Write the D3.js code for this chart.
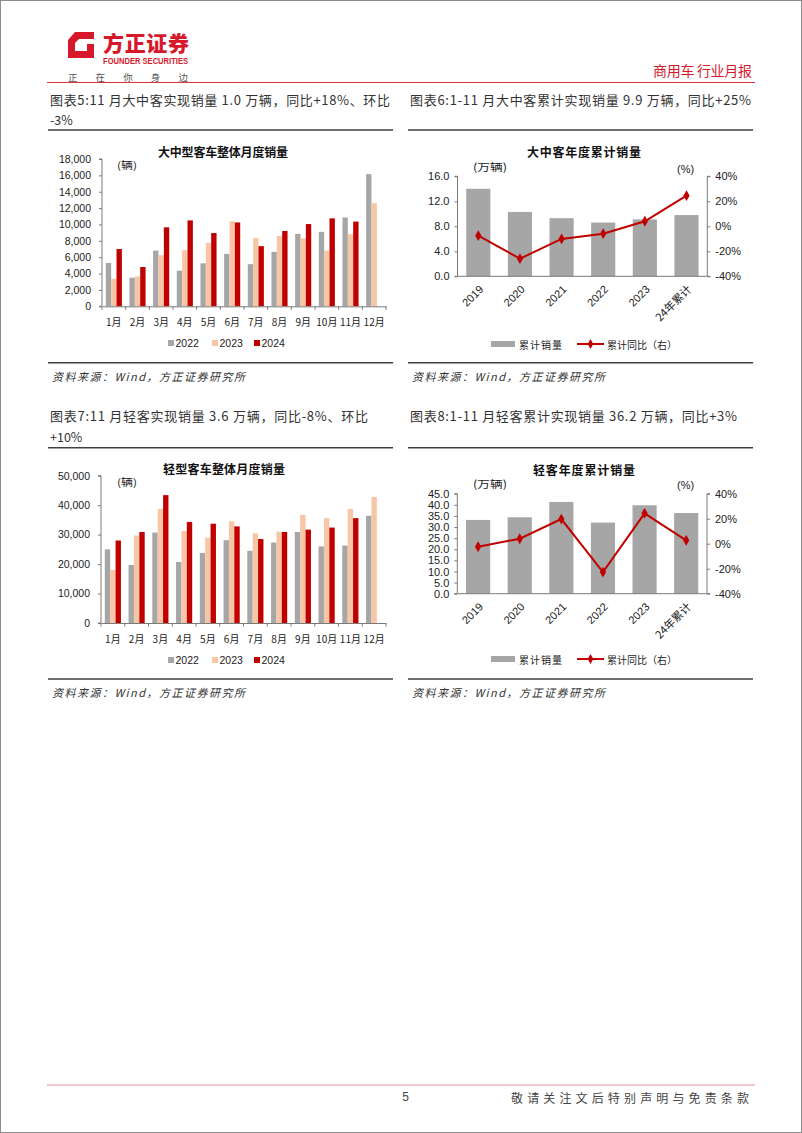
<!DOCTYPE html>
<html><head><meta charset="utf-8">
<script src="https://cdn.jsdelivr.net/npm/d3@7"></script>
<style>body{margin:0;background:#fff}svg{display:block}</style>
</head><body>
<svg id="page" width="802" height="1133"></svg>
<script>
// ---------- data ----------
const months = ["1月","2月","3月","4月","5月","6月","7月","8月","9月","10月","11月","12月"];
const seriesNames = ["2022","2023","2024"];
const largeBus2022 = [5300,3500,6800,4350,5250,6400,5150,6650,8850,9100,10850,16150];
const largeBus2023 = [3350,3650,6250,6850,7750,10400,8350,8600,8300,6800,8800,12600];
const largeBus2024 = [7000,4800,9650,10500,8950,10250,7350,9200,10050,10750,10350];
const lightBus2022 = [25000,19700,30700,20700,23800,28100,24500,27300,30900,26000,26300,36400];
const lightBus2023 = [18000,29700,38700,31200,29000,34500,30400,31000,36700,35600,38700,42800];
const lightBus2024 = [28000,30900,43400,34300,33700,32800,28500,30900,31700,32400,35600];
const cumYears = ["2019","2020","2021","2022","2023","24年累计"];
const largeBusCum = [14.0,10.3,9.3,8.6,9.1,9.8];
const largeBusCumYoY = [-7.5,-25.9,-10.1,-5.9,4.0,24.5];
const lightBusCum = [33.2,34.4,41.3,32.0,39.8,36.3];
const lightBusCumYoY = [-2.4,4.0,19.7,-22.7,24.3,2.7];
const largeBusTicks = [0,2000,4000,6000,8000,10000,12000,14000,16000,18000];
const lightBusTicks = [0,10000,20000,30000,40000,50000];
const largeCumTicks = [0,4,8,12,16];
const lightCumTicks = [0,5,10,15,20,25,30,35,40,45];
const yoyTicks = [-40,-20,0,20,40];

// ---------- styles ----------
const RED = "#d7182a", DARKRED = "#c00000", GRAY = "#a6a6a6", PEACH = "#f7c6a6";
const seriesColors = [GRAY, PEACH, DARKRED];
const CJK = "'Noto Sans CJK SC','Noto Sans',sans-serif";
const NUM = "'Liberation Sans',Arial,sans-serif";
const AXIS = "#7a7a7a";

const svg = d3.select("#page");
svg.append("rect").attr("x",0.5).attr("y",0.5).attr("width",801).attr("height",1132)
  .attr("fill","#fff").attr("stroke","#8c8c8c").attr("stroke-width",1);

function txt(g, x, y, s, o = {}) {
  const t = g.append("text").attr("x", x).attr("y", y).text(s)
    .attr("font-family", o.font || CJK).attr("font-size", o.size || 12)
    .attr("fill", o.color || "#333").attr("text-anchor", o.anchor || "start")
    .attr("dominant-baseline", "central");
  if (o.weight) t.attr("font-weight", o.weight);
  if (o.italic) t.attr("font-style", "italic");
  if (o.len) t.attr("textLength", o.len).attr("lengthAdjust", o.adjust || "spacing");
  return t;
}
function hline(x1, x2, y, color, w) {
  svg.append("line").attr("x1", x1).attr("x2", x2).attr("y1", y).attr("y2", y)
    .attr("stroke", color).attr("stroke-width", w);
}

// ---------- header ----------
svg.append("path").attr("fill", RED)
  .attr("d","M75 32 L94 32 L94 39 L79 39 L75 43 L75 51 L87 51 L87 44 L94 44 L94 58 L68 58 L68 40 Z");
txt(svg, 103, 41.5, "方正证券", {size: 21, weight: 900, color: RED, len: 86});
txt(svg, 103, 60.5, "FOUNDER SECURITIES", {font: NUM, size: 8.3, weight: 700, color: RED, len: 85, adjust: "spacingAndGlyphs"});
txt(svg, 68, 76.5, "正 在 你 身 边", {size: 9.5, color: "#555", len: 120});
txt(svg, 752, 70, "商用车 行业月报", {size: 14, color: RED, anchor: "end", len: 99});
hline(47, 755, 82.5, "#e2313f", 1);

// ---------- section titles ----------
txt(svg, 50, 99.5, "图表5:11 月大中客实现销量 1.0 万辆，同比+18%、环比", {size: 13, len: 340});
txt(svg, 50, 119.5, "-3%", {size: 12.5});
txt(svg, 410, 99.5, "图表6:1-11 月大中客累计实现销量 9.9 万辆，同比+25%", {size: 13, len: 341});
txt(svg, 50, 415.5, "图表7:11 月轻客实现销量 3.6 万辆，同比-8%、环比", {size: 13, len: 318});
txt(svg, 50, 436.5, "+10%", {size: 12.5});
txt(svg, 410, 415.5, "图表8:1-11 月轻客累计实现销量 36.2 万辆，同比+3%", {size: 13, len: 327});
[130, 362.7, 447.7, 679].forEach(y => { hline(48, 393, y, "#404040", 1.6); hline(408, 753, y, "#404040", 1.6); });
[375.5, 691.5].forEach(y => {
  txt(svg, 52, y, "资料来源：Wind，方正证券研究所", {size: 11, italic: true, color: "#333", len: 193});
  txt(svg, 412, y, "资料来源：Wind，方正证券研究所", {size: 11, italic: true, color: "#333", len: 193});
});

// ---------- footer ----------
hline(47, 755, 1085, "#f08da0", 1);
txt(svg, 405.5, 1097, "5", {font: NUM, size: 12, color: "#444", anchor: "middle"});
txt(svg, 749, 1097, "敬请关注文后特别声明与免责条款", {size: 12, color: "#444", anchor: "end", len: 238});

// ---------- monthly grouped bar chart ----------
function drawMonthly(o) {
  const g = svg.append("g");
  const x = d3.scaleBand().domain(months).range([o.x0, o.x1]).paddingInner(0.32).paddingOuter(0.16);
  const xs = d3.scaleBand().domain(seriesNames).range([0, x.bandwidth()]);
  const y = d3.scaleLinear().domain([0, o.max]).range([o.y0, o.yTop]);
  o.data.forEach((arr, si) => {
    g.append("g").selectAll("rect").data(arr).join("rect")
      .attr("x", (d, i) => x(months[i]) + xs(seriesNames[si]))
      .attr("width", xs.bandwidth())
      .attr("y", d => y(d)).attr("height", d => o.y0 - y(d))
      .attr("fill", seriesColors[si]);
  });
  const ya = g.append("g").attr("transform", `translate(${o.x0},0)`)
    .call(d3.axisLeft(y).tickValues(o.ticks).tickFormat(d3.format(",")).tickSize(3).tickPadding(8));
  ya.select(".domain").attr("stroke", AXIS).attr("d", `M-3,${o.y0}H0V${o.yTop}H-3`);
  ya.selectAll(".tick line").attr("stroke", AXIS);
  ya.selectAll("text").attr("font-family", NUM).attr("font-size", 10.5).attr("fill", "#222");
  const xa = g.append("g").attr("transform", `translate(0,${o.y0})`)
    .call(d3.axisBottom(x).tickSize(0).tickPadding(13));
  xa.select(".domain").attr("stroke", AXIS);
  xa.selectAll("text").attr("font-family", CJK).attr("font-size", 10).attr("fill", "#222");
  g.append("g").selectAll("line").data(d3.range(months.length + 1)).join("line")
    .attr("x1", i => o.x0 + i * x.step()).attr("x2", i => o.x0 + i * x.step())
    .attr("y1", o.y0).attr("y2", o.y0 + 3.5).attr("stroke", AXIS);
  txt(g, o.titleX, o.titleY, o.title, {size: 12, weight: 700, color: "#111", anchor: "middle", len: o.titleLen});
  txt(g, 117, o.unitY, "(辆)", {size: 10, color: "#222", len: 20, adjust: "spacingAndGlyphs"});
  const lx = [168, 212, 254];
  seriesNames.forEach((s, i) => {
    g.append("rect").attr("x", lx[i]).attr("y", o.legendY - 3).attr("width", 6).attr("height", 6).attr("fill", seriesColors[i]);
    txt(g, lx[i] + 7.5, o.legendY, s, {font: NUM, size: 10.5, color: "#222"});
  });
}

drawMonthly({x0: 102, x1: 386, y0: 306.3, yTop: 159, max: 18000, ticks: largeBusTicks,
  data: [largeBus2022, largeBus2023, largeBus2024], title: "大中型客车整体月度销量",
  titleX: 223, titleY: 151, titleLen: 130, unitY: 164, legendY: 343});
drawMonthly({x0: 101, x1: 386, y0: 623, yTop: 475.7, max: 50000, ticks: lightBusTicks,
  data: [lightBus2022, lightBus2023, lightBus2024], title: "轻型客车整体月度销量",
  titleX: 224, titleY: 468, titleLen: 122, unitY: 481, legendY: 660});

// ---------- cumulative bar + line chart ----------
function drawCum(o) {
  const g = svg.append("g");
  const x = d3.scaleBand().domain(cumYears).range([o.x0, o.x1]).paddingInner(0.42).paddingOuter(0.21);
  const y = d3.scaleLinear().domain([0, o.max]).range([o.y0, o.yTop]);
  const y2 = d3.scaleLinear().domain([-40, 40]).range([o.y0, o.yTop]);
  g.append("g").selectAll("rect").data(o.bars).join("rect")
    .attr("x", (d, i) => x(cumYears[i])).attr("width", x.bandwidth())
    .attr("y", d => y(d)).attr("height", d => o.y0 - y(d)).attr("fill", GRAY);
  const ya = g.append("g").attr("transform", `translate(${o.x0},0)`)
    .call(d3.axisLeft(y).tickValues(o.ticks).tickFormat(d3.format(".1f")).tickSize(3).tickPadding(5));
  ya.select(".domain").attr("stroke", AXIS).attr("d", `M-3,${o.y0}H0V${o.yTop}H-3`);
  ya.selectAll(".tick line").attr("stroke", AXIS);
  ya.selectAll("text").attr("font-family", NUM).attr("font-size", 11).attr("fill", "#222");
  const yb = g.append("g").attr("transform", `translate(${o.x1},0)`)
    .call(d3.axisRight(y2).tickValues(yoyTicks).tickFormat(d => d + "%").tickSize(3).tickPadding(5));
  yb.select(".domain").attr("stroke", AXIS).attr("d", `M3,${o.y0}H0V${o.yTop}H3`);
  yb.selectAll(".tick line").attr("stroke", AXIS);
  yb.selectAll("text").attr("font-family", NUM).attr("font-size", 11).attr("fill", "#222");
  g.append("line").attr("x1", o.x0).attr("x2", o.x1).attr("y1", o.y0).attr("y2", o.y0).attr("stroke", AXIS);
  g.append("g").selectAll("text").data(cumYears).join("text")
    .attr("transform", d => `translate(${x(d) + x.bandwidth() / 2 + 3},${o.y0 + 11}) rotate(-45)`)
    .attr("text-anchor", "end").attr("dy", "0.35em")
    .attr("font-family", d => /年/.test(d) ? CJK : NUM).attr("font-size", 11).attr("fill", "#222")
    .text(d => d);
  const line = d3.line().x((d, i) => x(cumYears[i]) + x.bandwidth() / 2).y(d => y2(d));
  g.append("path").datum(o.yoy).attr("d", line).attr("fill", "none")
    .attr("stroke", DARKRED).attr("stroke-width", 2);
  g.append("g").selectAll("path").data(o.yoy).join("path")
    .attr("transform", (d, i) => `translate(${x(cumYears[i]) + x.bandwidth() / 2},${y2(d)})`)
    .attr("d", d3.symbol(d3.symbolDiamond, 34)).attr("fill", DARKRED);
  txt(g, 584, o.titleY, o.title, {size: 12, weight: 700, color: "#111", anchor: "middle", len: o.titleLen});
  txt(g, 473, o.unitY, "(万辆)", {size: 10.5, color: "#222", len: 34, adjust: "spacingAndGlyphs"});
  txt(g, 677, o.unitY + 2, "(%)", {font: NUM, size: 11, color: "#222"});
  const ly = o.legendY;
  g.append("rect").attr("x", 491).attr("y", ly - 3).attr("width", 24).attr("height", 6).attr("fill", GRAY);
  txt(g, 519, ly, "累计销量", {size: 10, color: "#222", len: 43});
  g.append("line").attr("x1", 577).attr("x2", 604).attr("y1", ly).attr("y2", ly).attr("stroke", DARKRED).attr("stroke-width", 2);
  g.append("path").attr("transform", `translate(590.5,${ly})`).attr("d", d3.symbol(d3.symbolDiamond, 28)).attr("fill", DARKRED);
  txt(g, 607, ly, "累计同比（右）", {size: 10, color: "#222", len: 70});
}

drawCum({x0: 457.5, x1: 707.3, y0: 276.3, yTop: 176.3, max: 16, ticks: largeCumTicks,
  bars: largeBusCum, yoy: largeBusCumYoY, title: "大中客年度累计销量", titleY: 151.7, titleLen: 114,
  unitY: 166.5, legendY: 344});
drawCum({x0: 457.3, x1: 707, y0: 593.7, yTop: 493.7, max: 45, ticks: lightCumTicks,
  bars: lightBusCum, yoy: lightBusCumYoY, title: "轻客年度累计销量", titleY: 469, titleLen: 102,
  unitY: 483, legendY: 659});
</script>
</body></html>
